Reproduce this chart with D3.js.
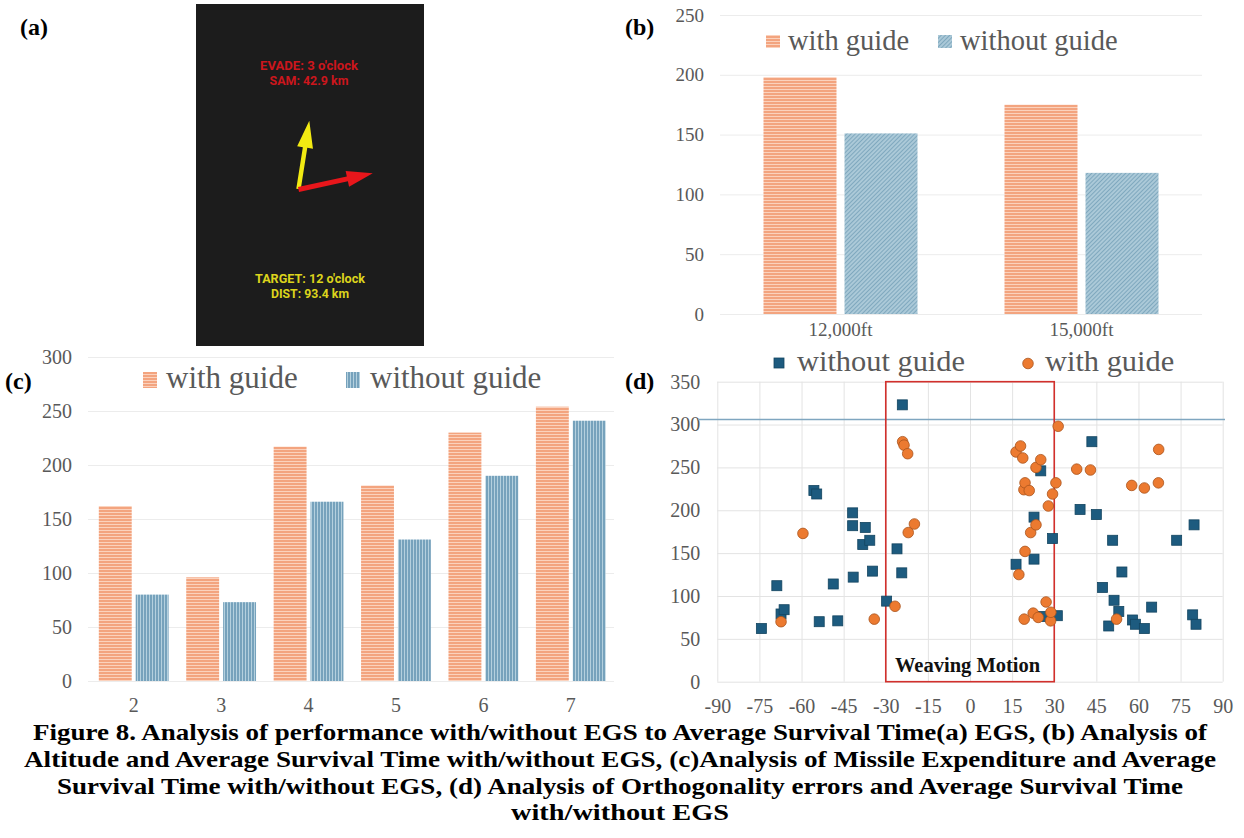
<!DOCTYPE html>
<html><head><meta charset="utf-8">
<script src="https://cdn.jsdelivr.net/npm/d3@7"></script>
<style>body{margin:0;background:#fff}svg{display:block}</style>
</head><body><svg id="fig" width="1244" height="838"></svg>
<script>
// ---------------- DATA ----------------
const seriesNames = ["with guide", "without guide"];

// (a) EGS display
const egsEvadeText = ["EVADE: 3 o'clock", "SAM: 42.9 km"];
const egsTargetText = ["TARGET: 12 o'clock", "DIST: 93.4 km"];

// (b) altitude vs average survival time
const altitudeCats = ["12,000ft", "15,000ft"];
const altitudeWith = [198, 175];
const altitudeWithout = [151, 118];
const altitudeTicks = [0, 50, 100, 150, 200, 250];

// (c) missile expenditure vs average survival time
const missileCats = ["2", "3", "4", "5", "6", "7"];
const missileWith = [162, 96, 217, 181, 230, 254];
const missileWithout = [80, 73, 166, 131, 190, 241];
const missileTicks = [0, 50, 100, 150, 200, 250, 300];

// (d) orthogonality error vs survival time
const orthoWithout = [[-74.3,62],[-68.8,112],[-67.3,79],[-66.2,84],[-55.6,223],[-54.6,219],[-53.7,70],[-48.7,114],[-47.1,71],[-41.8,197],[-41.8,182],[-41.6,122],[-37.3,180],[-38.2,160],[-35.7,165],[-34.7,129],[-29.7,94],[-24.1,323],[-26,155],[-24.3,127],[16.4,137],[22.8,143],[22.8,192],[25.2,246],[26.1,76],[29.4,167],[31.1,77],[39.2,201],[43.4,280],[45,195],[47.2,110],[49.4,65],[50.8,165],[51.3,95],[53,82],[54.1,128],[57.9,72],[58.9,67],[62.1,62],[64.7,87],[73.6,165],[79.3,78],[79.8,183],[80.5,67]];
const orthoWith = [[-67.3,70],[-59.5,173],[-34.1,73],[-26.7,88],[-24,280],[-23.5,276],[-22.2,266],[-22,174],[-19.8,184],[16.4,268],[17.4,125],[18,275],[18.8,261],[19.2,224],[19.3,73],[19.6,232],[19.6,152],[21.1,223],[21.6,174],[22.5,80],[23.5,250],[23.5,183],[24.3,75],[25.2,259],[27.1,93],[27.9,205],[28.7,71],[28.8,81],[29.4,219],[30.6,232],[31.4,298],[38,248],[42.9,247],[52.2,73],[57.6,229],[62.1,226],[67.1,232],[67.2,271]];
const orthoXTicks = [-90, -75, -60, -45, -30, -15, 0, 15, 30, 45, 60, 75, 90];
const orthoYTicks = [0, 50, 100, 150, 200, 250, 300, 350];
const referenceLine = 306;
const weavingRange = [-30, 30];
const weavingLabel = "Weaving Motion";

const panelLabels = ["(a)", "(b)", "(c)", "(d)"];
const captionLines = [
  "Figure 8. Analysis of performance with/without EGS to Average Survival Time(a) EGS, (b) Analysis of",
  "Altitude and Average Survival Time with/without EGS, (c)Analysis of Missile Expenditure and Average",
  "Survival Time with/without EGS, (d) Analysis of Orthogonality errors and Average Survival Time",
  "with/without EGS"
];

// ---------------- SETUP ----------------
const SERIF = "'Liberation Serif','Times New Roman',serif";
const GREY = "#595959";
const svg = d3.select("#fig");
svg.append("rect").attr("width", 1244).attr("height", 838).attr("fill", "#fff");
const defs = svg.append("defs");

function pattern(id, w, h, base, stripe, sx, sy, sw, sh, rot) {
  const p = defs.append("pattern").attr("id", id).attr("patternUnits", "userSpaceOnUse")
    .attr("width", w).attr("height", h);
  if (rot) p.attr("patternTransform", `rotate(${rot})`);
  p.append("rect").attr("width", w).attr("height", h).attr("fill", base);
  p.append("rect").attr("x", sx).attr("y", sy).attr("width", sw).attr("height", sh).attr("fill", stripe);
}
pattern("pOrange", 6, 3, "#f3a47f", "#fbd2bd", 0, 2, 6, 1);
pattern("pBlueDiag", 3, 3, "#abc9d8", "#7fa8be", 0, 0, 1, 3, 45);
pattern("pBlueVert", 3, 6, "#76a2bc", "#b4d0de", 2, 0, 1, 6);

function styleTicks(g, size) {
  g.select(".domain").remove();
  g.selectAll("text").attr("font-family", SERIF).attr("font-size", size).attr("fill", GREY);
}
function grid(g, color) {
  g.select(".domain").remove();
  g.selectAll("line").attr("stroke", color).attr("stroke-width", 1);
}

// ---------------- (a) ----------------
const pa = svg.append("g");
pa.append("rect").attr("x", 196).attr("y", 4).attr("width", 228).attr("height", 342).attr("fill", "#1c1c1c");
function arrow(x0, y0, angDeg, len, shaftW, headW, headL, color) {
  const a = angDeg * Math.PI / 180, ux = Math.cos(a), uy = -Math.sin(a), nx = -uy, ny = ux;
  const x1 = x0 + ux * len, y1 = y0 + uy * len;
  const bx = x1 - ux * headL, by = y1 - uy * headL;
  const pts = [[x0 + nx * shaftW / 2, y0 + ny * shaftW / 2], [bx + nx * shaftW / 2, by + ny * shaftW / 2],
    [bx + nx * headW / 2, by + ny * headW / 2], [x1, y1], [bx - nx * headW / 2, by - ny * headW / 2],
    [bx - nx * shaftW / 2, by - ny * shaftW / 2], [x0 - nx * shaftW / 2, y0 - ny * shaftW / 2]];
  pa.append("path").attr("d", d3.line()(pts) + "Z").attr("fill", color);
}
arrow(298.5, 189, 81, 69, 4.5, 16, 27, "#f2ea12");
arrow(298.5, 189.5, 12.3, 76, 5, 16, 26, "#e8161b");
const aFont = "Roboto, 'DejaVu Sans', sans-serif";
[[egsEvadeText[0], 70, 98], [egsEvadeText[1], 85, 79]].forEach(([t, y, w]) => {
  pa.append("text").attr("x", 309).attr("y", y).attr("text-anchor", "middle").attr("font-family", aFont)
    .attr("font-weight", 700).attr("font-size", 13.5).attr("fill", "#cc161c")
    .attr("textLength", w).attr("lengthAdjust", "spacingAndGlyphs").text(t);
});
[[egsTargetText[0], 283, 110], [egsTargetText[1], 298, 78]].forEach(([t, y, w]) => {
  pa.append("text").attr("x", 310).attr("y", y).attr("text-anchor", "middle").attr("font-family", aFont)
    .attr("font-weight", 700).attr("font-size", 13.5).attr("fill", "#dcd41c")
    .attr("textLength", w).attr("lengthAdjust", "spacingAndGlyphs").text(t);
});

// ---------------- (b) ----------------
const pb = svg.append("g");
const bX = d3.scaleBand().domain(altitudeCats).range([720, 1202]);
const bSub = d3.scaleBand().domain(seriesNames).range([0, bX.bandwidth()]).paddingInner(0.099).paddingOuter(0.537);
const bY = d3.scaleLinear().domain([0, 250]).range([314, 15]);
pb.append("g").attr("transform", "translate(720,0)")
  .call(d3.axisLeft(bY).tickValues(altitudeTicks).tickSize(-482).tickFormat(""))
  .call(g => grid(g, "#ececec"));
pb.append("g").attr("transform", "translate(720,0)")
  .call(d3.axisLeft(bY).tickValues(altitudeTicks).tickSize(0).tickPadding(16))
  .call(g => styleTicks(g, 19));
pb.append("g").attr("transform", "translate(0,314)")
  .call(d3.axisBottom(bX).tickSize(0).tickPadding(9))
  .call(g => styleTicks(g, 19));
const bSeries = [[seriesNames[0], altitudeWith, "url(#pOrange)"], [seriesNames[1], altitudeWithout, "url(#pBlueDiag)"]];
bSeries.forEach(([name, vals, fill]) => {
  pb.selectAll(null).data(altitudeCats).join("rect")
    .attr("x", (c) => bX(c) + bSub(name)).attr("width", bSub.bandwidth())
    .attr("y", (c, i) => bY(vals[i])).attr("height", (c, i) => bY(0) - bY(vals[i]))
    .attr("fill", fill);
});
[[766, 788, 0], [938, 960, 1]].forEach(([sx, tx, i]) => {
  pb.append("rect").attr("x", sx).attr("y", 35).attr("width", 14).attr("height", 13).attr("fill", bSeries[i][2]);
  pb.append("text").attr("x", tx).attr("y", 50).attr("font-family", SERIF).attr("font-size", 28.5)
    .attr("fill", GREY).text(seriesNames[i]);
});

// ---------------- (c) ----------------
const pc = svg.append("g");
const cX = d3.scaleBand().domain(missileCats).range([90, 614.5]);
const cSub = d3.scaleBand().domain(seriesNames).range([0, cX.bandwidth()]).paddingInner(0.108).paddingOuter(0.239);
const cY = d3.scaleLinear().domain([0, 300]).range([681, 357]);
pc.append("g").attr("transform", "translate(88,0)")
  .call(d3.axisLeft(cY).tickValues(missileTicks).tickSize(-526).tickFormat(""))
  .call(g => grid(g, "#ececec"));
pc.append("g").attr("transform", "translate(88,0)")
  .call(d3.axisLeft(cY).tickValues(missileTicks).tickSize(0).tickPadding(16))
  .call(g => styleTicks(g, 20));
pc.append("g").attr("transform", "translate(0,681)")
  .call(d3.axisBottom(cX).tickSize(0).tickPadding(17))
  .call(g => styleTicks(g, 20));
const cSeries = [[seriesNames[0], missileWith, "url(#pOrange)"], [seriesNames[1], missileWithout, "url(#pBlueVert)"]];
cSeries.forEach(([name, vals, fill]) => {
  pc.selectAll(null).data(missileCats).join("rect")
    .attr("x", (c) => cX(c) + cSub(name)).attr("width", cSub.bandwidth())
    .attr("y", (c, i) => cY(vals[i])).attr("height", (c, i) => cY(0) - cY(vals[i]))
    .attr("fill", fill);
});
[[143, 166, 0], [346, 370, 1]].forEach(([sx, tx, i]) => {
  pc.append("rect").attr("x", sx).attr("y", 372).attr("width", 14).attr("height", 16).attr("fill", cSeries[i][2]);
  pc.append("text").attr("x", tx).attr("y", 388).attr("font-family", SERIF).attr("font-size", 31)
    .attr("fill", GREY).text(seriesNames[i]);
});

// ---------------- (d) ----------------
const pd = svg.append("g");
const dX = d3.scaleLinear().domain([-90, 90]).range([717.3, 1222.7]);
const dY = d3.scaleLinear().domain([0, 350]).range([681.7, 381.7]);
pd.append("g").attr("transform", `translate(0,${dY(0)})`)
  .call(d3.axisBottom(dX).tickValues(orthoXTicks).tickSize(-(dY(0) - dY(350))).tickFormat(""))
  .call(g => grid(g, "#e3e3e3"));
pd.append("g").attr("transform", `translate(${dX(-90)},0)`)
  .call(d3.axisLeft(dY).tickValues(orthoYTicks).tickSize(-(dX(90) - dX(-90))).tickFormat(""))
  .call(g => grid(g, "#e3e3e3"));
pd.append("g").attr("transform", `translate(${dX(-90)},0)`)
  .call(d3.axisLeft(dY).tickValues(orthoYTicks).tickSize(0).tickPadding(17))
  .call(g => styleTicks(g, 20));
pd.append("g").attr("transform", `translate(0,${dY(0)})`)
  .call(d3.axisBottom(dX).tickValues(orthoXTicks).tickSize(0).tickPadding(17).tickFormat(d => String(d)))
  .call(g => styleTicks(g, 20));
pd.append("line").attr("x1", 698).attr("x2", 1225).attr("y1", dY(referenceLine)).attr("y2", dY(referenceLine))
  .attr("stroke", "#7fa6c0").attr("stroke-width", 1.5);
pd.append("rect").attr("x", dX(weavingRange[0])).attr("y", dY(350))
  .attr("width", dX(weavingRange[1]) - dX(weavingRange[0])).attr("height", dY(0) - dY(350))
  .attr("fill", "none").attr("stroke", "#d2302c").attr("stroke-width", 1.6);
pd.append("text").attr("x", 895).attr("y", 672).attr("font-family", SERIF).attr("font-weight", "bold")
  .attr("font-size", 20.5).attr("fill", "#111").text(weavingLabel);
pd.selectAll(null).data(orthoWithout).join("rect")
  .attr("x", d => dX(d[0]) - 5).attr("y", d => dY(d[1]) - 5).attr("width", 10).attr("height", 10)
  .attr("fill", "#1d5b7f").attr("stroke", "#134560").attr("stroke-width", 0.8);
pd.selectAll(null).data(orthoWith).join("circle")
  .attr("cx", d => dX(d[0])).attr("cy", d => dY(d[1])).attr("r", 5.3)
  .attr("fill", "#ec7a30").attr("stroke", "#a9541d").attr("stroke-width", 0.8);
pd.append("rect").attr("x", 774).attr("y", 358).attr("width", 10).attr("height", 10)
  .attr("fill", "#1d5b7f").attr("stroke", "#134560").attr("stroke-width", 0.8);
pd.append("text").attr("x", 797).attr("y", 371).attr("font-family", SERIF).attr("font-size", 30.4)
  .attr("fill", GREY).text(seriesNames[1]);
pd.append("circle").attr("cx", 1028).attr("cy", 363.5).attr("r", 5.3)
  .attr("fill", "#ec7a30").attr("stroke", "#a9541d").attr("stroke-width", 0.8);
pd.append("text").attr("x", 1045).attr("y", 371).attr("font-family", SERIF).attr("font-size", 30.4)
  .attr("fill", GREY).text(seriesNames[0]);

// ---------------- panel labels ----------------
[[20, 35], [625, 35], [5, 389], [625, 389]].forEach(([x, y], i) => {
  svg.append("text").attr("x", x).attr("y", y).attr("font-family", SERIF).attr("font-weight", "bold")
    .attr("font-size", 24).attr("fill", "#000").text(panelLabels[i]);
});

// ---------------- caption ----------------
const captionWidths = [1174, 1192, 1126, 218];
[740, 767, 794, 820].forEach((y, i) => {
  svg.append("text").attr("x", 620).attr("y", y).attr("text-anchor", "middle")
    .attr("font-family", SERIF).attr("font-weight", "bold").attr("font-size", 24).attr("fill", "#000")
    .attr("textLength", captionWidths[i]).attr("lengthAdjust", "spacingAndGlyphs")
    .text(captionLines[i]);
});
</script></body></html>
